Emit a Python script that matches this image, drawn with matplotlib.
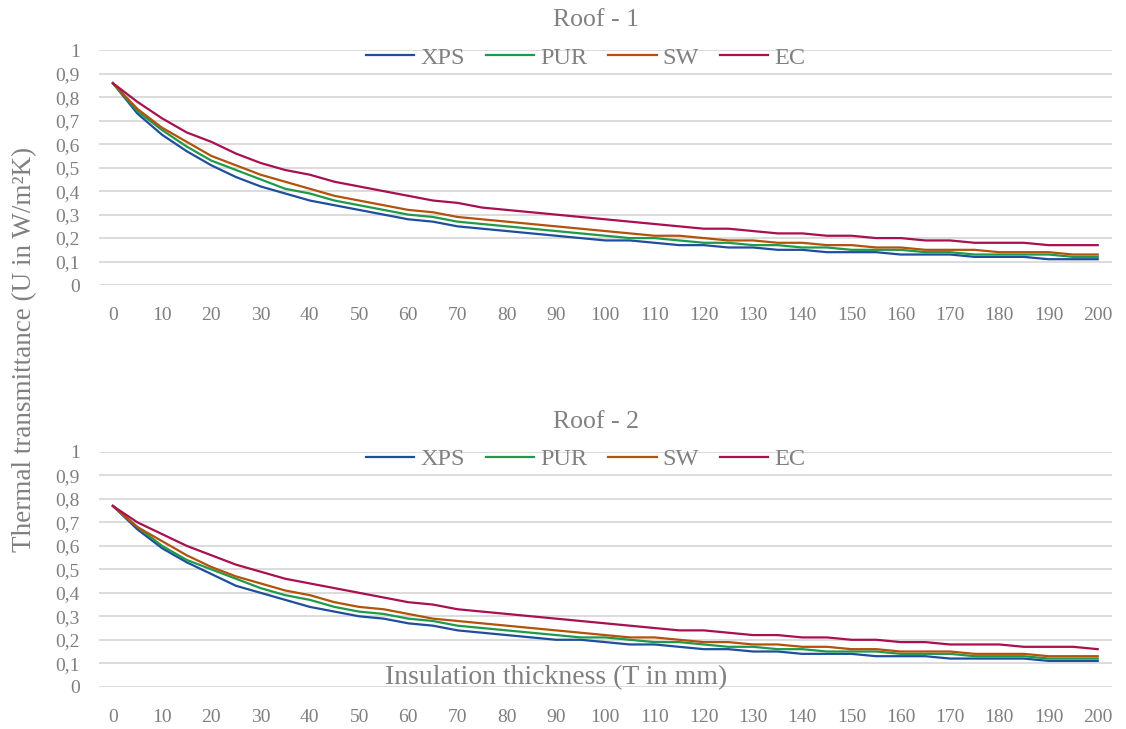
import matplotlib
matplotlib.use("Agg")
from matplotlib import pyplot as plt

# insulation thickness in mm
thickness = list(range(0, 205, 5))

# Roof - 1, U values (W/m2K)
r1_xps = [0.86, 0.73, 0.64, 0.57, 0.51, 0.46, 0.42, 0.39, 0.36, 0.34, 0.32, 0.30, 0.28, 0.27,
          0.25, 0.24, 0.23, 0.22, 0.21, 0.20, 0.19, 0.19, 0.18, 0.17, 0.17, 0.16, 0.16, 0.15,
          0.15, 0.14, 0.14, 0.14, 0.13, 0.13, 0.13, 0.12, 0.12, 0.12, 0.11, 0.11, 0.11]
r1_pur = [0.86, 0.74, 0.66, 0.59, 0.53, 0.49, 0.45, 0.41, 0.39, 0.36, 0.34, 0.32, 0.30, 0.29,
          0.27, 0.26, 0.25, 0.24, 0.23, 0.22, 0.21, 0.20, 0.20, 0.19, 0.18, 0.18, 0.17, 0.17,
          0.16, 0.16, 0.15, 0.15, 0.15, 0.14, 0.14, 0.13, 0.13, 0.13, 0.13, 0.12, 0.12]
r1_sw = [0.86, 0.75, 0.67, 0.61, 0.55, 0.51, 0.47, 0.44, 0.41, 0.38, 0.36, 0.34, 0.32, 0.31,
         0.29, 0.28, 0.27, 0.26, 0.25, 0.24, 0.23, 0.22, 0.21, 0.21, 0.20, 0.19, 0.19, 0.18,
         0.18, 0.17, 0.17, 0.16, 0.16, 0.15, 0.15, 0.15, 0.14, 0.14, 0.14, 0.13, 0.13]
r1_ec = [0.86, 0.78, 0.71, 0.65, 0.61, 0.56, 0.52, 0.49, 0.47, 0.44, 0.42, 0.40, 0.38, 0.36,
         0.35, 0.33, 0.32, 0.31, 0.30, 0.29, 0.28, 0.27, 0.26, 0.25, 0.24, 0.24, 0.23, 0.22,
         0.22, 0.21, 0.21, 0.20, 0.20, 0.19, 0.19, 0.18, 0.18, 0.18, 0.17, 0.17, 0.17]

# Roof - 2, U values (W/m2K)
r2_xps = [0.77, 0.67, 0.59, 0.53, 0.48, 0.43, 0.40, 0.37, 0.34, 0.32, 0.30, 0.29, 0.27, 0.26,
          0.24, 0.23, 0.22, 0.21, 0.20, 0.20, 0.19, 0.18, 0.18, 0.17, 0.16, 0.16, 0.15, 0.15,
          0.14, 0.14, 0.14, 0.13, 0.13, 0.13, 0.12, 0.12, 0.12, 0.12, 0.11, 0.11, 0.11]
r2_pur = [0.77, 0.68, 0.60, 0.54, 0.50, 0.46, 0.42, 0.39, 0.37, 0.34, 0.32, 0.31, 0.29, 0.28,
          0.26, 0.25, 0.24, 0.23, 0.22, 0.21, 0.21, 0.20, 0.19, 0.19, 0.18, 0.17, 0.17, 0.16,
          0.16, 0.15, 0.15, 0.15, 0.14, 0.14, 0.14, 0.13, 0.13, 0.13, 0.12, 0.12, 0.12]
r2_sw = [0.77, 0.68, 0.62, 0.56, 0.51, 0.47, 0.44, 0.41, 0.39, 0.36, 0.34, 0.33, 0.31, 0.29,
         0.28, 0.27, 0.26, 0.25, 0.24, 0.23, 0.22, 0.21, 0.21, 0.20, 0.19, 0.19, 0.18, 0.18,
         0.17, 0.17, 0.16, 0.16, 0.15, 0.15, 0.15, 0.14, 0.14, 0.14, 0.13, 0.13, 0.13]
r2_ec = [0.77, 0.70, 0.65, 0.60, 0.56, 0.52, 0.49, 0.46, 0.44, 0.42, 0.40, 0.38, 0.36, 0.35,
         0.33, 0.32, 0.31, 0.30, 0.29, 0.28, 0.27, 0.26, 0.25, 0.24, 0.24, 0.23, 0.22, 0.22,
         0.21, 0.21, 0.20, 0.20, 0.19, 0.19, 0.18, 0.18, 0.18, 0.17, 0.17, 0.17, 0.16]

labels = ["XPS", "PUR", "SW", "EC"]
colors = ["#1f4e9c", "#1e9a4a", "#b4520c", "#a8104f"]
y_ticks = [i / 10 for i in range(11)]
y_ticklabels = ["0"] + ["0,{}".format(i) for i in range(1, 10)] + ["1"]
x_ticks = list(range(0, 201, 10))

plt.rcParams['font.family'] = ['Liberation Serif', 'DejaVu Serif']
text_color = "#808080"


def draw(ax, series, title):
    for values, name, c in zip(series, labels, colors):
        ax.plot(thickness, values, color=c, lw=1.6, label=name)
    ax.set_xlim(-2.8, 203)
    ax.set_ylim(0, 1)
    ax.set_yticks(y_ticks)
    ax.set_yticklabels(y_ticklabels)
    ax.set_xticks(x_ticks)
    ax.grid(axis='y', color='#d9d9d9', lw=1.3)
    ax.set_axisbelow(True)
    for s in ax.spines.values():
        s.set_visible(False)
    ax.tick_params(length=0, labelsize=14, colors="#7f7f7f")
    ax.tick_params(axis='y', pad=14)
    ax.tick_params(axis='x', pad=16)
    ax.text(0.49, 1.128, title, transform=ax.transAxes, ha='center', va='center',
            fontsize=18.5, color=text_color)
    ax.legend(loc='center', bbox_to_anchor=(0.48, 0.968), ncol=4, frameon=False,
              fontsize=17.5, handlelength=2.0, handletextpad=0.25, columnspacing=0.85,
              labelcolor=text_color, borderaxespad=0)


fig = plt.figure(figsize=(11.26, 7.29), dpi=100)
ax1 = fig.add_axes([0.088, 0.609, 0.9, 0.322])
ax2 = fig.add_axes([0.088, 0.058, 0.9, 0.322])
draw(ax1, [r1_xps, r1_pur, r1_sw, r1_ec], "Roof - 1")
draw(ax2, [r2_xps, r2_pur, r2_sw, r2_ec], "Roof - 2")

fig.text(0.022, 0.52, "Thermal transmittance (U in W/m²K)", rotation=90, ha='center',
         va='center', fontsize=19.5, color=text_color)
fig.text(0.494, 0.071, "Insulation thickness (T in mm)", ha='center', va='center',
         fontsize=20, color=text_color)

fig.savefig("out.png", dpi=100, facecolor='white')
